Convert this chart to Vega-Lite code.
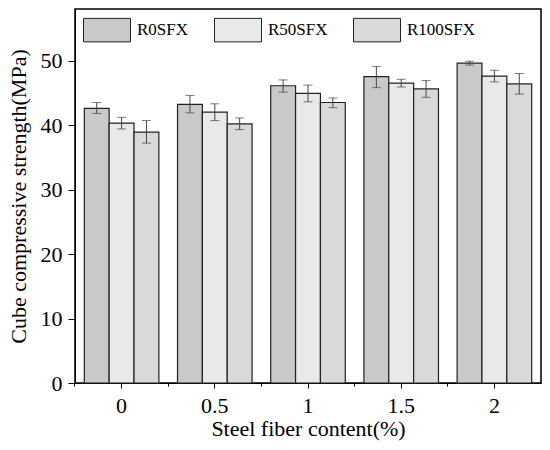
{
  "$schema": "https://vega.github.io/schema/vega-lite/v6.json",
  "description": "Cube compressive strength by steel fiber content, grouped bars with error bars",
  "width": 466,
  "height": 374,
  "autosize": "none",
  "padding": {"left": 75, "top": 9, "right": 9, "bottom": 67},
  "background": "white",
  "config": {
    "view": {"stroke": "black", "strokeWidth": 1.5},
    "font": "Liberation Serif",
    "axis": {
      "grid": false,
      "domainColor": "black",
      "tickColor": "black",
      "labelColor": "black",
      "titleColor": "black",
      "labelFont": "Liberation Serif",
      "titleFont": "Liberation Serif",
      "titleFontWeight": "normal"
    }
  },
  "data": {
    "values": [
      {"content": "0", "series": "R0SFX", "strength": 42.6, "lo": 41.8, "hi": 43.5},
      {"content": "0", "series": "R50SFX", "strength": 40.3, "lo": 39.4, "hi": 41.2},
      {"content": "0", "series": "R100SFX", "strength": 38.9, "lo": 37.2, "hi": 40.7},
      {"content": "0.5", "series": "R0SFX", "strength": 43.2, "lo": 41.9, "hi": 44.6},
      {"content": "0.5", "series": "R50SFX", "strength": 42.0, "lo": 40.7, "hi": 43.3},
      {"content": "0.5", "series": "R100SFX", "strength": 40.2, "lo": 39.3, "hi": 41.1},
      {"content": "1", "series": "R0SFX", "strength": 46.1, "lo": 45.1, "hi": 47.0},
      {"content": "1", "series": "R50SFX", "strength": 44.9, "lo": 43.6, "hi": 46.2},
      {"content": "1", "series": "R100SFX", "strength": 43.5, "lo": 42.7, "hi": 44.2},
      {"content": "1.5", "series": "R0SFX", "strength": 47.5, "lo": 45.8, "hi": 49.1},
      {"content": "1.5", "series": "R50SFX", "strength": 46.5, "lo": 45.9, "hi": 47.1},
      {"content": "1.5", "series": "R100SFX", "strength": 45.6, "lo": 44.3, "hi": 46.9},
      {"content": "2", "series": "R0SFX", "strength": 49.6, "lo": 49.3, "hi": 49.9},
      {"content": "2", "series": "R50SFX", "strength": 47.6, "lo": 46.7, "hi": 48.5},
      {"content": "2", "series": "R100SFX", "strength": 46.4, "lo": 44.8, "hi": 48.0}
    ]
  },
  "layer": [
    {
      "mark": {"type": "bar", "stroke": "#222222", "strokeWidth": 1.2},
      "encoding": {
        "x": {
          "field": "content",
          "type": "nominal",
          "sort": ["0", "0.5", "1", "1.5", "2"],
          "scale": {"paddingInner": 0.2, "paddingOuter": 0.1},
          "axis": {
            "orient": "bottom",
            "title": "Steel fiber content(%)",
            "labelAngle": 0,
            "labelFontSize": 22,
            "titleFontSize": 22,
            "tickSize": 5,
            "labelPadding": 7,
            "titlePadding": 2
          }
        },
        "xOffset": {"field": "series", "sort": ["R0SFX", "R50SFX", "R100SFX"]},
        "y": {
          "field": "strength",
          "type": "quantitative",
          "scale": {"domain": [0, 58], "nice": false},
          "axis": {
            "title": "Cube compressive strength(MPa)",
            "values": [0, 5, 10, 15, 20, 25, 30, 35, 40, 45, 50, 55],
            "labelExpr": "datum.value % 10 === 0 ? datum.label : ''",
            "tickSize": {"condition": {"test": "datum.value % 10 === 0", "value": 7}, "value": 4},
            "labelFontSize": 22,
            "titleFontSize": 22,
            "labelPadding": 6,
            "titlePadding": 10
          }
        },
        "fill": {
          "field": "series",
          "type": "nominal",
          "scale": {"domain": ["R0SFX", "R50SFX", "R100SFX"], "range": ["#c9c9c9", "#e9e9e9", "#d9d9d9"]},
          "legend": {
            "orient": "none",
            "legendX": 8,
            "legendY": -3,
            "direction": "horizontal",
            "title": null,
            "symbolType": "M-1,-0.5H1V0.5H-1Z",
            "symbolSize": 2209,
            "symbolStrokeColor": "#222222",
            "symbolStrokeWidth": 1,
            "labelFontSize": 17,
            "labelFont": "Liberation Serif",
            "labelColor": "black",
            "labelOffset": 6,
            "columnPadding": 23,
            "padding": 0
          }
        }
      }
    },
    {
      "mark": {"type": "rule", "color": "#444444", "strokeWidth": 1},
      "encoding": {
        "x": {
          "field": "content",
          "type": "nominal",
          "sort": ["0", "0.5", "1", "1.5", "2"],
          "axis": {
            "orient": "bottom",
            "labels": false,
            "title": null,
            "domain": false,
            "tickSize": 3,
            "bandPosition": -0.125
          }
        },
        "xOffset": {"field": "series", "sort": ["R0SFX", "R50SFX", "R100SFX"]},
        "y": {"field": "lo", "type": "quantitative"},
        "y2": {"field": "hi"}
      }
    },
    {
      "mark": {"type": "tick", "color": "#444444", "thickness": 1, "size": 9},
      "encoding": {
        "x": {"field": "content", "type": "nominal", "sort": ["0", "0.5", "1", "1.5", "2"], "axis": null},
        "xOffset": {"field": "series", "sort": ["R0SFX", "R50SFX", "R100SFX"]},
        "y": {"field": "hi", "type": "quantitative"}
      }
    },
    {
      "mark": {"type": "tick", "color": "#444444", "thickness": 1, "size": 9},
      "encoding": {
        "x": {"field": "content", "type": "nominal", "sort": ["0", "0.5", "1", "1.5", "2"], "axis": null},
        "xOffset": {"field": "series", "sort": ["R0SFX", "R50SFX", "R100SFX"]},
        "y": {"field": "lo", "type": "quantitative"}
      }
    }
  ],
  "resolve": {"axis": {"x": "independent"}}
}
